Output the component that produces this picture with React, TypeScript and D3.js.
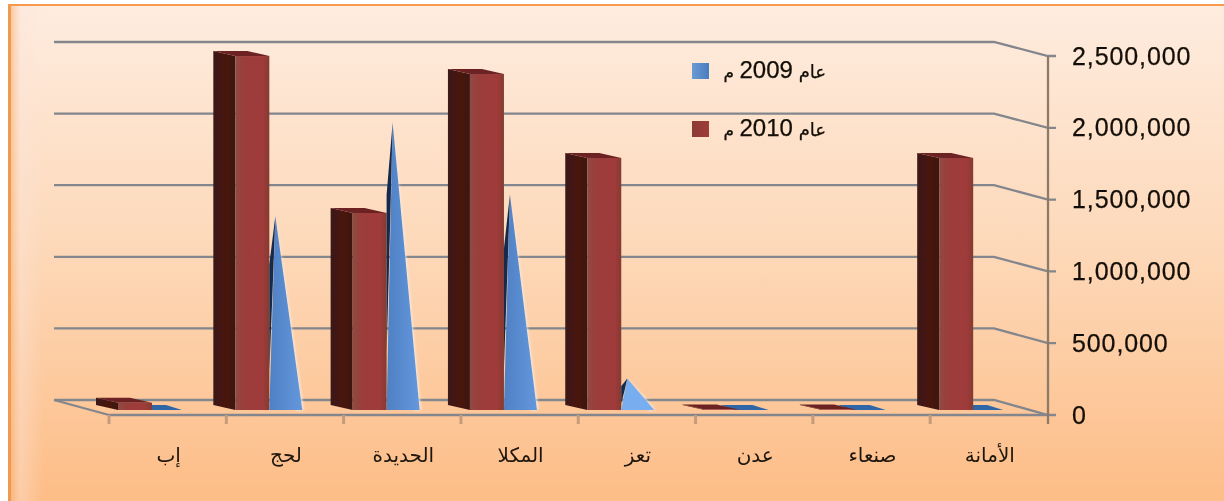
import React from "react";
import * as d3 from "d3";

const categories = ["إب", "لحج", "الحديدة", "المكلا", "تعز", "عدن", "صنعاء", "الأمانة"];
const values2010 = [50000, 2465000, 1372000, 2340000, 1755000, 3000, 3000, 1755000];
const values2009 = [3000, 1350000, 2000000, 1500000, 220000, 3000, 3000, 3000];
const axisTicks = [0, 500000, 1000000, 1500000, 2000000, 2500000];
const legendYears = ["2009", "2010"];

const W = 1224;
const H = 501;
const x = d3.scaleBand<string>().domain(categories).range([109, 1047.5]);
const yFront = d3.scaleLinear().domain([0, 2500000]).range([415, 56]);
const yBack = d3.scaleLinear().domain([0, 2500000]).range([400, 42]);
const yBar = d3.scaleLinear().domain([0, 2500000]).range([410, 51]);
const pts = (p: number[][]) => p.map((q) => q.join(",")).join(" ");
const fmt = d3.format(",");
const AR = "'DejaVu Sans', sans-serif";
const LAT = "'Liberation Sans', Arial, sans-serif";
const BAR_W = 34;
const DX = 22;
const DY = 5;

export default function App() {
  return (
    <svg width={W} height={H} viewBox={`0 0 ${W} ${H}`} style={{ position: "absolute", left: 0, top: 0, background: "#fff" }}>
      <defs>
        <linearGradient id="bg" x1="0" y1="0" x2="0" y2="1">
          <stop offset="0" stopColor="#feecdf" />
          <stop offset="0.5" stopColor="#fdd8b8" />
          <stop offset="1" stopColor="#fdbd87" />
        </linearGradient>
        <linearGradient id="edge" x1="0" y1="0" x2="1" y2="0">
          <stop offset="0" stopColor="#f8b070" stopOpacity="0.6" />
          <stop offset="0.3" stopColor="#fbe4da" stopOpacity="0.4" />
          <stop offset="1" stopColor="#fbe4da" stopOpacity="0" />
        </linearGradient>
        <linearGradient id="front" x1="0" y1="0" x2="1" y2="0">
          <stop offset="0" stopColor="#8f4a42" />
          <stop offset="0.3" stopColor="#9c3c3a" />
          <stop offset="0.8" stopColor="#a03a3a" />
          <stop offset="1" stopColor="#853a30" />
        </linearGradient>
        <linearGradient id="side" x1="0" y1="0" x2="1" y2="0">
          <stop offset="0" stopColor="#3b1a14" />
          <stop offset="0.6" stopColor="#4a1410" />
          <stop offset="1" stopColor="#3a1512" />
        </linearGradient>
        <linearGradient id="cone" x1="0" y1="0" x2="1" y2="0">
          <stop offset="0" stopColor="#4f80c4" />
          <stop offset="1" stopColor="#6497dc" />
        </linearGradient>
        <linearGradient id="legBlue" x1="0" y1="0" x2="1" y2="0">
          <stop offset="0" stopColor="#6a9ad2" />
          <stop offset="1" stopColor="#4a7cc0" />
        </linearGradient>
        <linearGradient id="legRed" x1="0" y1="0" x2="1" y2="0">
          <stop offset="0" stopColor="#8c3a34" />
          <stop offset="1" stopColor="#a03c3a" />
        </linearGradient>
        <filter id="soft" x="-5%" y="-5%" width="110%" height="110%">
          <feGaussianBlur stdDeviation="0.6" />
        </filter>
        <filter id="glow" x="-30%" y="-10%" width="160%" height="120%">
          <feGaussianBlur stdDeviation="1.6" />
        </filter>
      </defs>

      <rect x={8} y={4} width={W - 8} height={H - 4} fill="url(#bg)" />
      <rect x={11} y={6} width={32} height={H - 6} fill="url(#edge)" />
      <rect x={8} y={4} width={3} height={H - 4} fill="#ee9a50" />
      <rect x={8} y={4} width={W - 8} height={2} fill="#f89a4e" />

      <g filter="url(#soft)">
        {axisTicks.map((t) => (
          <polyline
            key={t}
            points={pts([
              [54, yBack(t)],
              [994, yBack(t)],
              [1048, yFront(t)],
              [1056, yFront(t)],
            ])}
            fill="none"
            stroke="#83868c"
            strokeWidth={2.3}
          />
        ))}
        <line x1={54} y1={yBack(0)} x2={109} y2={yFront(0)} stroke="#83868c" strokeWidth={2.3} />
        <line x1={109} y1={yFront(0)} x2={1048} y2={yFront(0)} stroke="#83868c" strokeWidth={2.3} />
        <line x1={1048} y1={yFront(2500000)} x2={1048} y2={424} stroke="#8f7a68" strokeWidth={2.3} />
        {categories.map((c) => (
          <line key={c} x1={x(c)} y1={415} x2={x(c)} y2={424} stroke="#c49c7c" strokeWidth={3} />
        ))}

        {categories.map((c, i) => {
          const x0 = (x(c) as number) + 9;
          const xc = x0 + BAR_W;
          const top = yBar(values2010[i]);
          const base = yBar(0);
          const ay = yBar(values2009[i]);
          const ax = xc + 6;
          const h = base - ay;
          const flat = h < 12;
          return (
            <g key={c}>
              {flat && (
                <polygon
                  points={pts([
                    [xc - 18, base - DY],
                    [xc + 14, base - DY],
                    [xc + 30, base],
                    [xc - 4, base],
                  ])}
                  fill="#2f66a8"
                />
              )}
              <polygon points={pts([[x0 - DX, top - DY], [x0, top], [x0, base], [x0 - DX, base - DY]])} fill="url(#side)" />
              <polygon points={pts([[x0 - DX, top - DY], [x0 + BAR_W - DX, top - DY], [x0 + BAR_W, top], [x0, top]])} fill="#6c2424" />
              <rect x={x0} y={top} width={BAR_W} height={Math.max(0, base - top)} fill="url(#front)" />
              {!flat && (
                <g>
                  <polygon points={pts([[ax, ay], [xc + 34, base], [xc + 27, base]])} fill="#f4f3f2" filter="url(#glow)" />
                  <polygon points={pts([[ax, ay], [xc + 33, base], [xc, base]])} fill={h < 60 ? "#78aef0" : "url(#cone)"} />
                  <polygon
                    points={pts([
                      [ax, ay],
                      [xc, ay + 0.25 * h],
                      [xc, ay + 0.8 * h],
                      [ax - 2.5, ay + 0.35 * h],
                    ])}
                    fill="#12294e"
                  />
                </g>
              )}
            </g>
          );
        })}

        {axisTicks.map((t) => (
          <text key={t} x={1072} y={yFront(t) + 8.5} fontFamily={LAT} fontSize={25} letterSpacing={0.9} fill="#120d08" stroke="#120d08" strokeWidth={0.25}>
            {fmt(t)}
          </text>
        ))}
        {categories.map((c) => (
          <text
            key={c}
            x={(x(c) as number) + x.bandwidth() / 2 + 1}
            y={462}
            textAnchor="middle"
            direction="rtl"
            fontFamily={AR}
            fontSize={20}
            fill="#1f170e"
          >
            {c}
          </text>
        ))}
        {legendYears.map((yr, i) => {
          const ly = 71 + i * 58;
          return (
            <g key={yr}>
              <rect x={692} y={ly - 8} width={17} height={16} fill={i === 0 ? "url(#legBlue)" : "url(#legRed)"} />
              <text x={826} y={ly + 7} direction="rtl" fill="#120d08" stroke="#120d08" strokeWidth={0.25}>
                <tspan fontFamily={AR} fontSize={18}>عام </tspan>
                <tspan fontFamily={LAT} fontSize={24} letterSpacing={2.6}>{yr}</tspan>
                <tspan fontFamily={AR} fontSize={17}> م</tspan>
              </text>
            </g>
          );
        })}
      </g>
    </svg>
  );
}
